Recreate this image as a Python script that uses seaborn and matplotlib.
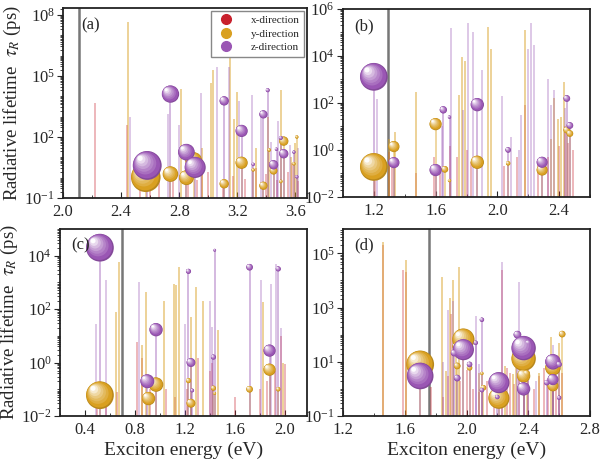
import numpy as np
import matplotlib
matplotlib.use('Agg')
import matplotlib.pyplot as plt
import matplotlib.ticker as mticker
from matplotlib.transforms import ScaledTranslation
from matplotlib.colors import to_rgb
from matplotlib.lines import Line2D
import seaborn as sns

# ---- data: (energy eV, lifetime ps) for stems, (energy, lifetime, rel. strength) for balls ----
# panel (a)
a_x_stems = [(2.22, 4.7e3), (2.44, 4e2), (2.53, 0.5), (2.60, 2), (2.66, 3), (2.76, 1.5), (2.86, 25),
             (2.92, 0.8), (2.96, 6), (3.00, 2), (3.10, 0.6), (3.17, 1.2), (3.25, 0.9), (3.33, 3),
             (3.40, 1.5), (3.47, 0.8), (3.55, 2), (3.58, 5), (3.62, 0.7)]
a_y_stems = [(2.45, 4.7e7), (2.81, 2.4e4), (2.96, 30), (3.02, 4.5e4), (3.03, 2e5), (3.15, 2.2e6),
             (3.18, 8e2), (3.20, 1.6e4), (3.33, 30), (3.41, 1e3), (3.50, 2e4), (3.57, 10), (3.60, 50)]
a_z_stems = [(2.46, 1e3), (2.72, 1.4e3), (2.80, 4e2), (2.95, 1.5e4), (3.06, 2.8e5), (3.14, 2.8e5),
             (3.21, 6e3), (3.30, 1.2e4), (3.36, 2e3), (3.43, 60), (3.48, 600), (3.56, 40), (3.62, 30)]
a_y_balls = [(2.57, 1.05, 13.3), (2.74, 1.5, 7), (2.85, 1.0, 6.7), (2.90, 7, 7.5), (3.11, 0.5, 4.2),
             (3.23, 5.4, 5.5), (3.38, 0.4, 3.7), (3.45, 2.2, 3.5), (3.52, 63, 4.2), (3.42, 23, 1.6),
             (3.50, 0.65, 1.6), (3.31, 2.4, 1.5), (3.59, 4.8, 1.5), (3.61, 100, 1.5)]
a_z_balls = [(2.58, 4, 13), (2.74, 1.3e4, 7.8), (2.85, 18, 7.5), (2.91, 3.2, 9.5), (3.11, 6e3, 4.2),
             (3.23, 2e2, 5.5), (3.38, 1.3e3, 3.7), (3.45, 4.3, 4.2), (3.52, 15, 4.2), (3.41, 2e4, 1.8),
             (3.50, 90, 1.8), (3.31, 4.5, 1.5), (3.47, 25, 1.5), (3.61, 1.1, 1.5), (3.59, 18, 1.5)]

# panel (b)
b_x_stems = [(1.21, 0.05), (1.30, 0.8), (1.32, 0.3), (1.47, 0.1), (1.59, 0.5), (1.63, 0.2), (1.69, 1.5),
             (1.74, 0.5), (1.80, 1), (1.83, 0.3), (2.04, 0.2), (2.13, 0.5), (2.18, 80), (2.26, 0.3),
             (2.33, 0.5), (2.40, 1.5), (2.44, 10), (2.46, 2), (2.49, 1)]
b_y_stems = [(1.30, 3), (1.34, 6), (1.47, 300), (1.75, 210), (1.77, 9e3), (1.79, 6e3), (1.94, 1.8e5),
             (1.96, 2e4), (2.18, 1.3e5), (2.35, 3), (2.37, 160), (2.39, 20), (2.41, 25), (2.43, 800)]
b_z_stems = [(1.22, 150), (1.64, 10), (1.70, 1.5e5), (1.78, 50), (1.81, 2.5e5), (1.84, 1e5), (1.90, 2.5e3),
             (2.03, 200), (2.09, 3.5), (2.14, 1), (2.15, 30), (2.20, 2e4), (2.22, 2.5e5), (2.24, 3e4),
             (2.33, 1e3), (2.35, 85), (2.37, 370), (2.44, 60)]
b_y_balls = [(1.20, 0.19, 12.5), (1.33, 1.4, 5), (1.60, 12.6, 5.5), (1.66, 0.15, 3), (1.69, 0.05, 1.5),
             (1.87, 0.3, 6), (2.07, 0.27, 2), (2.29, 0.14, 5), (2.45, 7, 3), (2.47, 5, 3)]
b_z_balls = [(1.20, 1.3e3, 12.5), (1.33, 0.29, 5), (1.60, 0.14, 5.5), (1.65, 51, 3.3), (1.69, 25, 1.5),
             (1.87, 85, 6), (2.07, 1.0, 2.5), (2.29, 0.3, 5), (2.45, 155, 3), (2.47, 11, 3)]

# panel (c)
c_x_stems = [(0.50, 0.05), (0.57, 0.05), (0.66, 0.08), (0.82, 6), (0.86, 1.5), (0.92, 0.1), (1.05, 0.1),
             (1.12, 0.05), (1.22, 0.1), (1.31, 1.5), (1.40, 0.5), (1.42, 1), (1.60, 0.05), (1.80, 0.1),
             (1.86, 0.2), (1.92, 0.5), (1.97, 10), (2.00, 0.9)]
c_y_stems = [(0.65, 80), (0.67, 5.6e3), (0.86, 4.6), (0.89, 440), (1.03, 200), (1.11, 900), (1.13, 800),
             (1.15, 3.7e3), (1.25, 50), (1.29, 660), (1.35, 200), (1.47, 17), (1.83, 190), (1.99, 1.0)]
c_z_stems = [(0.49, 29), (0.57, 1.2e3), (0.83, 1e3), (1.20, 29), (1.40, 200), (1.42, 22), (1.81, 1.2e3),
             (1.89, 900), (1.93, 5e3), (1.97, 20)]
c_y_balls = [(0.52, 0.06, 12.5), (0.91, 0.045, 6), (0.97, 0.15, 6.5), (1.23, 0.21, 2.3), (1.25, 0.03, 4),
             (1.43, 0.11, 2.3), (1.44, 0.07, 1.3), (1.72, 0.1, 3), (1.88, 0.54, 5.5), (1.95, 0.1, 2)]
c_z_balls = [(0.52, 2e4, 12.5), (0.90, 0.2, 6.3), (0.97, 17, 6), (1.23, 2.6e3, 2.3), (1.25, 1.0, 4),
             (1.26, 0.09, 1.7), (1.43, 1.6, 2.3), (1.44, 1.6e4, 1.3), (1.72, 3.7e3, 3), (1.88, 2.8, 5.5),
             (1.95, 3.2e3, 2.3)]

# panel (d)
d_x_stems = [(1.46, 2.0e5), (1.59, 2.4e4), (1.61, 2e4), (1.77, 1.2), (1.85, 0.5), (1.88, 3), (1.90, 600),
             (1.96, 2), (2.00, 5), (2.04, 1), (2.08, 0.8), (2.13, 2), (2.18, 0.5), (2.23, 2.4e4), (2.26, 6),
             (2.28, 4), (2.31, 1.5), (2.34, 3), (2.40, 2), (2.44, 1), (2.47, 3), (2.50, 6), (2.53, 1.5),
             (2.58, 2), (2.62, 4)]
d_y_stems = [(1.46, 2.6e5), (1.61, 5.5e4), (1.84, 1.35e4), (1.87, 4.5), (1.89, 2.2e3), (1.91, 1e4),
             (1.95, 3.2e4), (2.08, 4), (2.25, 7), (2.30, 3.5), (2.32, 6), (2.47, 4), (2.55, 80), (2.60, 50)]
d_z_stems = [(1.85, 10), (1.88, 800), (1.91, 1.8e3), (2.06, 470), (2.08, 8), (2.23, 4.8e4), (2.34, 9e3),
             (2.45, 2), (2.56, 40)]
d_y_balls = [(1.70, 8, 12.5), (1.98, 66, 10), (1.94, 7, 3), (1.93, 37, 3), (2.02, 6, 2.5), (2.10, 3.7, 1.5),
             (2.11, 1.1, 2.5), (2.21, 0.45, 9.5), (2.37, 13, 11), (2.37, 3, 6), (2.39, 3.7, 3),
             (2.56, 6, 7), (2.56, 1.3, 5), (2.62, 105, 3)]
d_z_balls = [(1.70, 3, 12), (1.98, 28, 9.5), (1.94, 2.5, 3), (1.92, 21, 3), (2.02, 8, 2.5), (2.06, 50, 2),
             (2.10, 355, 2), (2.10, 0.9, 2), (2.21, 1.7, 9.5), (2.20, 0.5, 2), (2.37, 32, 11),
             (2.33, 100, 3.5), (2.40, 50, 2.5), (2.37, 1.0, 6), (2.56, 10, 7), (2.56, 2.2, 5),
             (2.52, 1.7, 2.5), (2.60, 8, 2.5), (2.60, 0.47, 2)]

# band gaps (vertical gray lines)
gaps = [2.11, 1.29, 0.70, 1.76]
panel_names = ['(a)', '(b)', '(c)', '(d)']
legend_labels = ['x-direction', 'y-direction', 'z-direction']

# ---- styling ----
sns.set_style('ticks')
plt.rcParams['font.family'] = ['Liberation Serif', 'DejaVu Serif']
plt.rcParams['mathtext.fontset'] = 'stix'

cx, cy, cz = '#c8202c', '#d9a021', '#9a56b4'

fig = plt.figure(figsize=(6, 4.61), dpi=100)
W, H = 600, 461
boxes = [(63, 307, 8, 198), (343, 590, 9, 197), (60, 307, 229, 416), (343, 590, 229, 416)]
xlims = [(2.0, 3.68), (1.0, 2.6), (0.2, 2.18), (1.2, 2.8)]
ylims = [(0.1, 10 ** 8.35), (1e-2, 1e6), (1e-2, 1e5), (0.1, 10 ** 5.9)]
ymajor = [range(-1, 9, 3), range(-2, 7, 2), range(-2, 5, 2), range(-1, 6, 2)]
xmajor = [(2.0, 3.61), (1.2, 2.41), (0.4, 2.01), (1.2, 2.81)]


def draw_stems(ax, stems, color, alpha, bottom):
    e = [s[0] for s in stems]
    t = [s[1] for s in stems]
    ax.vlines(e, bottom, t, colors=color, alpha=alpha, lw=1.3, zorder=2)


def draw_balls(ax, balls, color, z, bottom):
    e = np.array([b[0] for b in balls])
    t = np.array([b[1] for b in balls])
    f = np.array([b[2] for b in balls])
    draw_stems(ax, balls, color, 0.45, bottom)
    base = np.array(to_rgb(color))
    r = 0.8 * f  # radius in points
    sns.scatterplot(x=e, y=t, s=(2 * r) ** 2, color=tuple(base * 0.85), edgecolor='none',
                    linewidth=0, ax=ax, zorder=z, legend=False)
    n = 7
    for k in range(1, n + 1):
        frac = k / n
        col = np.clip(base + (1 - base) * frac ** 1.5 * 0.98, 0, 1)
        if k == 1:
            col = base
        for ei, ti, ri in zip(e, t, r):
            rk = ri * (1 - 0.82 * frac) if k > 1 else ri * 0.93
            d = (ri - rk) * 0.6
            tr = ax.transData + ScaledTranslation(-d / 72, d / 72, fig.dpi_scale_trans)
            ax.scatter([ei], [ti], s=(2 * rk) ** 2, color=col, edgecolors='none',
                       transform=tr, zorder=z + k * 0.01)


panels = [
    (a_x_stems, a_y_stems, a_z_stems, a_y_balls, a_z_balls),
    (b_x_stems, b_y_stems, b_z_stems, b_y_balls, b_z_balls),
    (c_x_stems, c_y_stems, c_z_stems, c_y_balls, c_z_balls),
    (d_x_stems, d_y_stems, d_z_stems, d_y_balls, d_z_balls),
]

for i, (xs, ys, zs, yb, zb) in enumerate(panels):
    l, r_, t_, b_ = boxes[i]
    ax = fig.add_axes([l / W, 1 - b_ / H, (r_ - l) / W, (b_ - t_) / H])
    ax.set_yscale('log')
    ax.set_xlim(*xlims[i])
    ax.set_ylim(*ylims[i])
    bottom = ylims[i][0]

    ax.axvline(gaps[i], color='#777777', lw=1.8, zorder=1.5)
    draw_stems(ax, xs, cx, 0.35, bottom)
    draw_stems(ax, ys, cy, 0.5, bottom)
    draw_stems(ax, zs, cz, 0.35, bottom)
    draw_balls(ax, yb, cy, 3, bottom)
    draw_balls(ax, zb, cz, 4, bottom)

    # ticks
    ax.xaxis.set_major_locator(mticker.FixedLocator(np.arange(*xmajor[i], 0.4)))
    ax.xaxis.set_minor_locator(mticker.MultipleLocator(0.2))
    ax.xaxis.set_major_formatter(mticker.FormatStrFormatter('%.1f'))
    ax.yaxis.set_major_locator(mticker.FixedLocator([10.0 ** k for k in ymajor[i]]))
    ax.yaxis.set_minor_locator(mticker.LogLocator(base=10, subs=np.arange(1, 10), numticks=30))
    ax.yaxis.set_minor_formatter(mticker.NullFormatter())
    ax.tick_params(axis='x', which='both', direction='in', labelsize=12, pad=4)
    ax.tick_params(axis='x', which='major', length=4)
    ax.tick_params(axis='x', which='minor', length=2)
    ax.tick_params(axis='y', which='both', direction='out', labelsize=12, pad=2)
    ax.tick_params(axis='y', which='major', length=4)
    ax.tick_params(axis='y', which='minor', length=2)
    for sp in ax.spines.values():
        sp.set_color('#222222')
        sp.set_linewidth(1.3)

    ax.text(0.045 if i != 0 else 0.075, 0.91, panel_names[i], transform=ax.transAxes,
            fontsize=12, va='center', ha='left', zorder=6)

    if i in (0, 2):
        ax.set_ylabel(r'Radiative lifetime  $\tau_R$ (ps)', fontsize=13.5, labelpad=1)
    if i in (2, 3):
        ax.set_xlabel('Exciton energy (eV)', fontsize=14, labelpad=3)

    if i == 0:
        handles = [Line2D([], [], marker='o', ls='', color=c, markersize=7) for c in (cx, cy, cz)]
        leg = ax.legend(handles, legend_labels, loc='upper right', fontsize=8, frameon=True,
                        fancybox=False, edgecolor='#888888', framealpha=1, borderpad=0.4,
                        handletextpad=1.2, labelspacing=0.35, borderaxespad=0.25)
        leg.set_zorder(10)

fig.savefig('out.png', dpi=100)
